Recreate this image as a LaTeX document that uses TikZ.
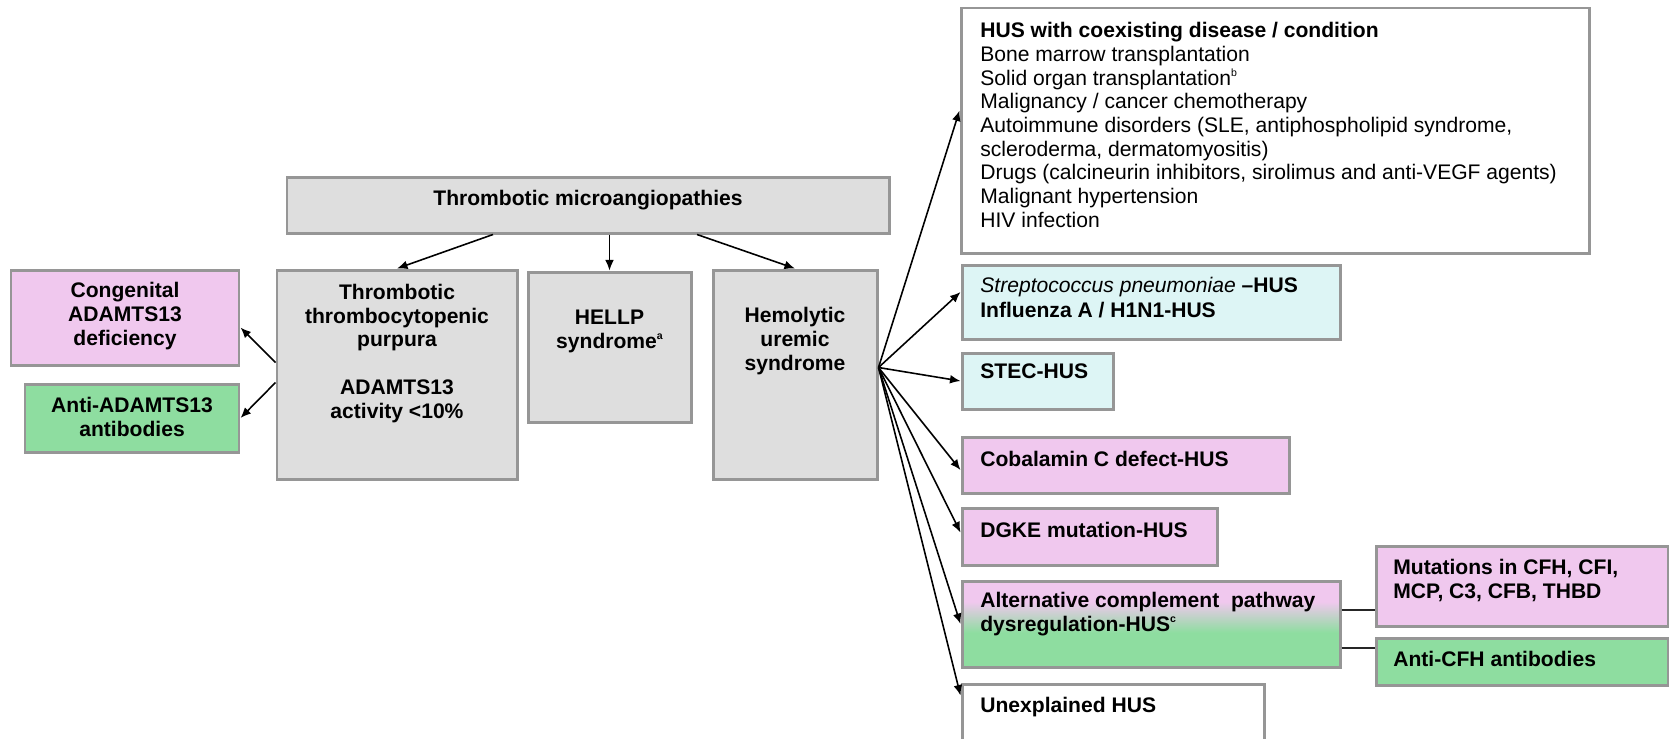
\documentclass[tikz,border=0pt]{standalone}
\usepackage{fontspec}
\setmainfont{Liberation Sans}
\usetikzlibrary{fit,calc,arrows.meta}
\definecolor{boxgray}{HTML}{DEDEDE}
\definecolor{edgegray}{HTML}{969696}
\definecolor{pinkc}{HTML}{F0C8EE}
\definecolor{greenc}{HTML}{8EDDA0}
\definecolor{cyanc}{HTML}{DDF5F5}
\pgfdeclareverticalshading{altshade}{100bp}{color(0bp)=(greenc); color(45bp)=(greenc); color(63bp)=(pinkc); color(100bp)=(pinkc)}
\newcommand\supx[1]{\raisebox{0.8ex}{\fontsize{6}{6}\selectfont #1}}
\begin{document}
\begin{tikzpicture}[x=0.02cm,y=-0.02cm,
  box/.style={draw=edgegray, line width=1.7pt, inner sep=0pt},
  txt/.style={inner sep=0pt, font=\fontsize{12}{13.5}\selectfont\bfseries, align=center},
  ltxt/.style={inner sep=0pt, font=\fontsize{12}{14}\selectfont\bfseries, align=left, anchor=base west},
  arr/.style={-{Latex[length=6pt,width=5pt]}, line width=0.9pt},
  link/.style={line width=1.2pt, draw=black!85}]
\clip (0,0) rectangle (1669,738);
\fill[white] (0,0) rectangle (1669,738);

% left part (text nodes anchored at the baseline of their last line)
\node[box, fill=boxgray, fit={(287,177) (889,233)}] (tma) {};
\node[txt, anchor=base] (tmat) at (588,205) {Thrombotic microangiopathies};

\node[box, fill=pinkc, fit={(11,270) (239,365)}] (cong) {};
\node[txt, anchor=base] (congt) at (125,345) {Congenital\\ADAMTS13\\deficiency};

\node[box, fill=greenc, fit={(25,384) (239,452)}] (antia) {};
\node[txt, anchor=base] (antiat) at (132,436) {Anti-ADAMTS13\\antibodies};

\node[box, fill=boxgray, fit={(277,270) (517,479)}] (ttp) {};
\node[txt, anchor=base] (ttpt) at (397,418) {Thrombotic\\thrombocytopenic\\purpura\\[13.5pt]ADAMTS13\\activity <10\%};

\node[box, fill=boxgray, fit={(528,272) (691,422)}] (hellp) {};
\node[txt, anchor=base] (hellpt) at (609.5,348) {HELLP\\syndrome\supx{a}};

\node[box, fill=boxgray, fit={(713,270) (877,479)}] (hus) {};
\node[txt, anchor=base] (hust) at (795,370) {Hemolytic\\uremic\\syndrome};

% right column
\node[box, fill=white, fit={(961,8) (1589,253)}] (coex) {};
\node[ltxt, font=\fontsize{12}{13.45}\selectfont\mdseries] (coext) at (980,227) {\textbf{HUS with coexisting disease / condition}\\Bone marrow transplantation\\Solid organ transplantation\supx{b}\\Malignancy / cancer chemotherapy\\Autoimmune disorders (SLE, antiphospholipid syndrome,\\scleroderma, dermatomyositis)\\Drugs (calcineurin inhibitors, sirolimus and anti-VEGF agents)\\Malignant hypertension\\HIV infection};

\node[box, fill=cyanc, fit={(962,265) (1340,339)}] (strep) {};
\node[ltxt] (strept) at (980,317) {{\mdseries\itshape Streptococcus pneumoniae} –HUS\\Influenza A / H1N1-HUS};

\node[box, fill=cyanc, fit={(962,353) (1113,409)}] (stec) {};
\node[ltxt] (stect) at (980,378) {STEC-HUS};

\node[box, fill=pinkc, fit={(962,437) (1289,493)}] (cob) {};
\node[ltxt] (cobt) at (980,466) {Cobalamin C defect-HUS};

\node[box, fill=pinkc, fit={(962,508) (1217,565)}] (dgke) {};
\node[ltxt] (dgket) at (980,537) {DGKE mutation-HUS};

\node[box, shading=altshade, fit={(962,581) (1340,667)}] (alt) {};
\node[ltxt, font=\fontsize{12}{13.5}\selectfont\bfseries] (altt) at (980,631) {Alternative complement~ pathway\\dysregulation-HUS\supx{c}};

\node[box, fill=pinkc, fit={(1376,546) (1668,626)}] (mut) {};
\node[ltxt, font=\fontsize{12}{13.5}\selectfont\bfseries] (mutt) at (1393,598) {Mutations in CFH, CFI,\\MCP, C3, CFB, THBD};

\node[box, fill=greenc, fit={(1376,638) (1668,685)}] (acfh) {};
\node[ltxt] (acfht) at (1393,666) {Anti-CFH antibodies};

\node[box, fill=white, fit={(962,684) (1264,790)}] (unexp) {};
\node[ltxt] (unexpt) at (980,712) {Unexplained HUS};

% connectors
\draw[arr] ($(tma.south)+(-95,0)$) -- (ttp.north);
\draw[arr] (tma.south -| hellp.north) -- (hellp.north);
\draw[arr] ($(tma.south)+(109,0)$) -- (hus.north);
\draw[arr] ($(ttp.west)+(0,-12)$) -- ($(cong.east)+(0,10)$);
\draw[arr] ($(ttp.west)+(0,8)$) -- (antia.east);

\coordinate (fan) at ($(hus.east)+(0,-7)$);
\draw[arr] (fan) -- ($(coex.west)+(0,-20)$);
\draw[arr] (fan) -- ($(strep.west)+(0,-10)$);
\draw[arr] (fan) -- (stec.west);
\draw[arr] (fan) -- ($(cob.west)+(0,5)$);
\draw[arr] (fan) -- ($(dgke.west)+(0,-4)$);
\draw[arr] (fan) -- (alt.west);
\draw[arr] (fan) -- ($(unexp.north west)+(0,13)$);

\draw[link] ($(alt.east)+(0,-14)$) coordinate (l1) -- (l1 -| mut.west);
\draw[link] ($(alt.east)+(0,24)$) coordinate (l2) -- (l2 -| acfh.west);
\end{tikzpicture}
\end{document}
